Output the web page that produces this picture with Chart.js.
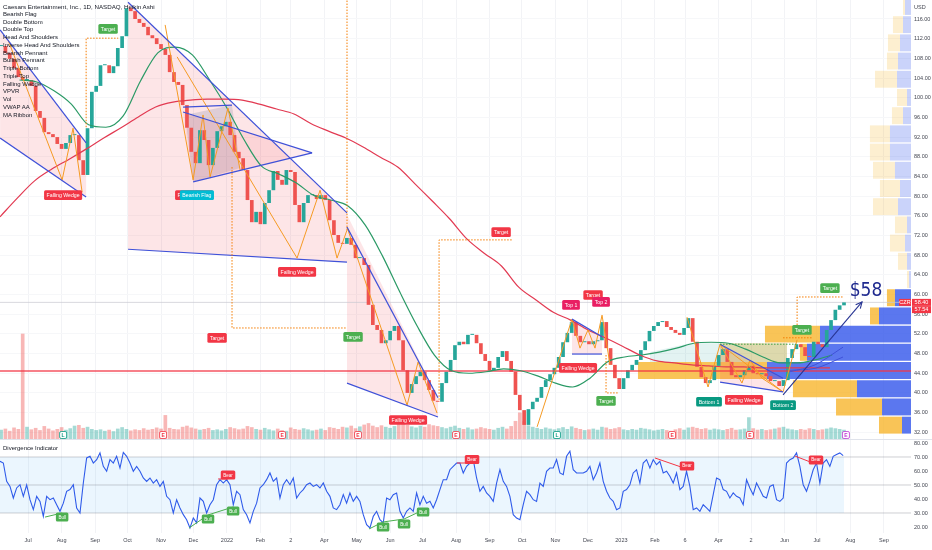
<!DOCTYPE html>
<html><head><meta charset="utf-8">
<script src="https://cdn.jsdelivr.net/npm/chart.js@4.4.1/dist/chart.umd.min.js"></script>
<style>
html,body{margin:0;padding:0;background:#fff;}
#wrap{position:relative;width:932px;height:550px;overflow:hidden;font-family:"Liberation Sans",Arial,sans-serif;}
#c1{position:absolute;left:0;top:0;}
#c2{position:absolute;left:0;top:440px;}
#sep{position:absolute;left:0;top:439px;width:932px;height:1px;background:#e0e3eb;}
.leg{position:absolute;left:3px;top:3px;font-size:6px;line-height:7.75px;color:#131722;white-space:nowrap;}
.leg .t{font-size:6.2px;}
.rsiT{position:absolute;left:3px;top:445px;font-size:6px;color:#131722;}
</style></head>
<body><div id="wrap">
<canvas id="c1" width="932" height="440"></canvas>
<canvas id="c2" width="932" height="110"></canvas>
<div id="sep"></div>
<div class="leg"><div class="t">Caesars Entertainment, Inc., 1D, NASDAQ, Heikin Ashi</div><div>Bearish Flag</div><div>Double Bottom</div><div>Double Top</div><div>Head And Shoulders</div><div>Inverse Head And Shoulders</div><div>Bearish Pennant</div><div>Bullish Pennant</div><div>Triple Bottom</div><div>Triple Top</div><div>Falling Wedge</div><div>VPVR</div><div>Vol</div><div>VWAP AA</div><div>MA Ribbon</div></div>
<div class="rsiT">Divergence Indicator</div>
</div>
<script>
// ================= DATA (x values are calendar days since 2021-07-01) =================
const monthDays = [0,31,62,92,123,153,184,215,243,274,304,335,365,396,427,457,488,518,549,580,608,639,669,700,730,761,792];
const monthLabels = ['Jul','Aug','Sep','Oct','Nov','Dec','2022','Feb','2','Apr','May','Jun','Jul','Aug','Sep','Oct','Nov','Dec','2023','Feb','6','Apr','2','Jun','Jul','Aug','Sep'];
const priceTicks = [32,36,40,44,48,52,56,60,64,68,72,76,80,84,88,92,96,100,104,108,112,116];
const rsiTicks = [20,30,40,50,60,70,80];

const candleStart = -25, candleStep = 4;
const closes = [
110.5,109.1,107.9,106.0,104.2,103.6,103.6,102.4,97.3,95.9,
93.0,92.6,92.0,90.6,89.6,90.8,92.4,92.4,87.3,84.3,
93.8,101.2,102.4,106.6,106.6,105.0,106.4,110.1,112.5,118.2,
117.6,116.0,115.2,114.4,112.7,112.1,110.9,109.9,108.7,105.2,
103.2,102.6,98.5,93.9,89.0,86.7,93.4,91.4,86.3,89.8,
93.2,94.2,95.1,92.4,89.0,87.7,85.3,79.2,74.7,76.8,
74.3,78.6,81.2,85.1,83.3,82.3,85.3,84.9,78.2,74.7,
78.6,80.2,80.2,79.4,80.2,79.2,75.1,72.1,70.5,70.3,
71.5,70.1,67.4,67.4,66.0,57.9,53.8,52.8,50.1,50.7,
52.6,53.6,50.7,44.6,40.0,41.8,43.4,44.3,42.6,40.6,
38.4,38.2,42.0,44.3,46.7,49.7,50.4,49.9,51.8,51.8,
50.1,47.9,46.5,44.6,45.1,47.3,48.5,46.5,44.3,39.6,
36.5,33.5,36.7,38.2,39.0,41.2,42.6,43.8,45.1,47.3,
50.3,52.2,54.4,51.6,50.3,50.5,49.9,50.5,50.7,54.4,
49.1,45.7,43.0,40.8,43.0,44.6,45.7,46.7,48.7,50.5,
52.6,53.6,54.4,54.6,53.4,52.8,52.2,51.8,53.2,55.2,
50.4,45.3,43.2,42.0,42.6,45.5,47.7,48.9,46.3,43.6,
43.2,43.6,44.6,45.5,44.0,43.8,44.0,43.4,42.4,42.4,
41.4,42.6,47.1,48.9,49.9,49.3,47.5,47.3,50.4,49.9,
49.3,52.8,54.8,56.9,57.8,58.4];
const volumes = [
2.8,3.1,2.5,3.4,3.0,29.0,3.6,2.9,3.3,2.7,3.8,3.1,2.6,3.0,3.5,2.8,3.2,3.9,4.1,3.3,
3.6,3.0,2.7,2.9,2.5,2.8,2.4,3.1,3.5,3.0,2.6,2.9,2.7,3.2,2.8,3.0,3.4,3.1,6.8,3.3,
3.0,2.9,3.6,3.9,3.4,3.1,2.8,3.0,3.3,2.7,2.9,2.6,3.0,3.5,3.2,2.9,3.1,3.8,3.5,3.0,
2.8,3.3,2.9,2.6,3.1,2.7,2.5,3.4,3.0,2.8,3.2,2.9,2.6,2.8,3.1,2.7,3.5,3.3,3.0,3.6,
3.4,3.9,3.2,3.7,4.2,4.6,3.9,3.5,4.0,3.6,3.3,3.8,4.4,5.0,4.1,3.7,3.4,3.9,3.6,4.3,
4.0,3.8,3.5,3.2,3.6,3.9,3.3,3.0,3.4,2.9,3.1,3.5,3.2,3.0,2.8,3.3,3.6,3.1,3.8,5.2,
7.5,5.1,4.0,3.6,3.3,3.0,3.4,3.1,2.9,3.2,3.5,3.0,3.7,3.3,3.0,2.7,2.9,3.1,2.8,3.6,
3.4,3.0,3.2,3.5,2.9,2.7,3.0,2.8,3.3,3.1,2.9,2.6,2.8,3.0,2.7,2.5,2.9,3.2,2.8,3.4,
3.6,3.3,3.0,3.2,2.8,3.1,2.9,2.7,3.0,3.3,2.8,2.9,3.1,6.2,3.2,2.8,3.0,2.7,2.9,3.1,
3.4,3.6,3.1,2.9,2.7,3.0,2.8,3.2,3.0,2.7,2.9,3.1,3.4,3.2,3.0,2.8];
const volMAStart = -26, volMAStep = 32;
const volMA = [3.1,3.5,3.2,2.9,2.7,2.8,3.0,2.9,2.7,2.6,2.8,2.9,3.3,3.6,3.3,3.0,2.9,3.1,3.3,2.9,2.7,2.8,2.6,2.7,2.8];

const fastStart = -8, fastStep = 16;
const maFast = [103.6,103.2,101.4,98.7,94.5,94.0,96.3,103.4,109.1,110.3,108.7,103.6,97.9,91.4,86.1,84.5,82.7,80.2,79.2,78.0,74.1,67.8,60.5,53.6,47.7,44.5,44.0,44.3,44.9,44.5,43.4,42.0,41.2,43.0,46.3,47.3,47.7,48.3,49.1,50.1,50.3,50.1,48.9,47.3,46.1,46.1,46.7,47.7];
const slowStart = -26, slowStep = 16;
const maSlow = [75.8,79.6,83.1,85.5,87.5,89.6,91.8,93.9,96.1,98.1,99.1,99.5,99.7,99.7,99.5,98.7,97.7,96.7,94.7,93.2,91.8,90.0,87.9,85.9,82.5,79.0,75.4,71.3,68.4,65.8,61.5,58.9,56.4,54.8,52.8,51.2,49.5,47.7,46.5,46.1,45.7,45.5,45.3,45.3,45.1,45.1,45.1,45.1,45.1];

// Volume profile (bins of price, from the lowest)
const vpLow = 31.6, vpStep = 3.7, vpValueArea = 8;
const vpUp   = [0.99,3.18,5.93,15.81,11.42,9.99,3.51,1.76,0.22,0.44,0.66,0.44,1.43,1.21,1.76,2.31,2.31,0.88,0.44,1.54,1.43,1.21,0.88,0.66];
const vpDown = [2.52,5.05,7.03,14.16,0.77,6.04,0.99,0.88,0.22,0.99,1.65,1.32,2.74,2.20,2.41,2.20,2.20,1.21,1.10,2.41,1.21,1.32,1.10,0.22];

const rsiStart = -26, rsiStep = 3.084;
const rsi = [
66.9,65.7,52.6,49.0,40.7,47.9,50.2,41.9,50.0,39.5,32.4,41.9,38.3,
27.6,41.9,39.5,40.7,35.9,31.2,37.0,45.5,46.7,50.2,33.6,30.0,51.4,69.3,70.5,65.7,68.1,72.9,63.3,59.8,68.1,65.7,70.5,62.1,
73.3,70.5,65.7,59.8,63.3,59.8,55.0,52.6,55.0,51.4,
53.8,49.0,52.6,41.9,39.5,30.0,39.5,33.6,28.8,25.2,
19.3,26.4,22.9,40.7,38.3,30.0,35.9,39.5,50.2,53.8,
51.4,53.8,50.2,35.9,45.5,43.1,32.4,28.8,22.9,31.2,
37.0,47.9,50.2,53.8,58.6,52.6,55.0,40.7,50.2,53.8,
50.2,55.0,40.7,44.3,46.7,50.2,51.4,49.0,50.2,47.9,
51.4,45.5,41.9,33.6,32.4,35.9,43.1,37.0,44.3,38.3,
41.9,38.3,28.8,21.7,19.3,27.6,31.2,25.2,22.9,40.7,
39.5,43.1,44.3,31.2,26.4,31.2,33.6,31.2,44.3,35.9,
41.9,37.0,38.3,33.6,39.5,46.7,53.8,53.8,60.9,63.3,
65.7,65.7,58.6,63.3,65.7,
68.1,55.0,45.5,49.0,44.3,41.9,38.3,51.4,60.9,52.6,49.0,41.9,
28.8,26.4,25.2,
35.9,45.5,43.1,39.5,38.3,51.4,49.0,59.8,62.1,62.1,
68.1,58.6,57.4,70.5,74.1,60.9,58.6,58.6,58.6,59.8,
63.3,53.8,58.6,65.7,52.6,45.5,40.7,38.3,32.4,33.6,
45.5,46.7,50.2,58.6,60.9,51.4,65.7,68.1,62.1,68.1,
64.5,66.9,58.6,59.8,56.2,51.4,58.6,46.7,49.0,59.8,
49.0,32.4,33.6,31.2,35.9,33.6,31.2,43.1,55.0,53.8,
46.7,45.5,40.7,44.3,41.9,40.7,35.9,53.8,47.9,43.1,
51.4,46.7,41.9,40.7,49.0,50.2,39.5,38.3,40.7,65.7,
68.1,69.3,72.9,63.3,50.2,45.5,52.6,60.9,65.7,51.4,
65.7,68.1,63.3,70.5,71.7,72.9,71.0];

const lastPrice = 58.40, prevClose = 57.54, supportLevel = 44.45;

// ---- pattern drawings: [day, price] vertices ----
const wedgeFills = [
  [[-25.9,113.8],[53.7,90.8],[53.7,79.8],[-25.9,91.8]],
  [[92.5,119.4],[295.1,76.6],[295.1,66.6],[92.5,69.2]],
  [[295.1,76.2],[379.3,39.0],[379.3,35.1],[295.1,42.0]],
  [[503.3,55.0],[531.1,51.4],[531.1,47.9],[503.3,47.9]],
  [[640.3,49.9],[698.6,43.0],[698.6,40.2],[640.3,42.2]]
];
const pennantFill = [[143.4,97.1],[262.8,88.8],[152.7,82.9]];
const flagFill = [[145.3,96.5],[188.7,98.5],[196.2,85.7],[152.7,82.9]];
const neckFill = [[575.5,48.3],[612.5,50.1],[640.3,50.1],[640.3,46.3],[575.5,46.3]];
const oliveBox = [[640.3,50.1],[702.2,50.1],[702.2,46.3],[640.3,46.3]];
const blueLines = [
  [[-25.9,113.8],[53.7,90.8]], [[-25.9,91.8],[53.7,79.8]],
  [[92.5,119.4],[295.1,76.6]], [[92.5,69.2],[295.1,66.6]],
  [[143.4,98.1],[188.7,98.5]], [[143.4,97.1],[262.8,88.8]], [[152.7,82.9],[262.8,88.8]],
  [[295.1,73.7],[379.3,39.0]], [[295.1,42.0],[379.3,35.1]],
  [[503.3,55.0],[531.1,51.4]], [[503.3,47.9],[531.1,47.9]],
  [[640.3,49.9],[698.6,43.0]], [[640.3,42.2],[698.6,40.2]]
];
const zigzags = [
  [[-18.5,111.7],[31.5,83.3],[41.6,93.8],[50.0,80.8]],
  [[126.8,114.8],[152.7,83.3],[161.9,96.5],[168.4,83.9],[185.0,97.9],[196.2,85.3]],
  [[137.9,108.3],[248.9,67.4],[270.2,81.2],[285.9,67.4],[295.1,73.1]],
  [[295.1,73.7],[350.7,37.5],[360.9,46.3],[378.4,35.9]],
  [[471.0,33.1],[503.3,55.0],[510.7,49.1],[518.1,52.8],[524.6,49.1],[531.1,55.8],[538.5,45.7]],
  [[609.7,55.4],[629.2,41.2],[640.3,49.9],[660.6,42.0],[668.0,46.7],[679.1,43.0],[698.6,40.2],[711.6,50.8]],
  [[640.3,49.9],[698.6,40.2]]
];
const targetLines = [
  [[53.7,94.0],[53.7,112.1],[83.4,112.1]],
  [[188.7,85.9],[188.7,53.2],[295.1,53.2]],
  [[295.1,73.1],[295.1,119.8]],
  [[380.3,38.6],[380.3,71.1],[447.8,71.1]],
  [[534.8,47.7],[534.8,40.0],[545.9,40.0]],
  [[711.6,53.8],[711.6,59.5],[754.1,59.5]],
  [[698.6,51.2],[726.3,51.2]]
];
const neckLine = [[640.3,49.9],[711.6,49.9]];
const ribbonLines = [[[705.0,44.3],[728.2,45.7],[754.1,49.3]], [[705.0,44.6],[728.2,45.0],[754.1,47.3]]];
const projection = [[698.6,39.6],[771.7,58.5]];
const tags = [
  [32.4,80.2,'Falling Wedge','#f23645'],
  [74.0,114.0,'Target','#4caf50'],
  [153.6,80.2,'Falling Wedge','#f23645'],
  [156.2,80.2,'Bearish Flag','#00bcd4'],
  [248.9,64.6,'Falling Wedge','#f23645'],
  [174.9,51.2,'Target','#f23645'],
  [300.7,51.4,'Target','#4caf50'],
  [351.6,34.5,'Falling Wedge','#f23645'],
  [437.7,72.7,'Target','#f23645'],
  [502.4,57.9,'Top 1','#e91e63'],
  [522.8,59.9,'Target','#f23645'],
  [530.2,58.5,'Top 2','#e91e63'],
  [508.9,45.1,'Falling Wedge','#f23645'],
  [534.8,38.4,'Target','#4caf50'],
  [630.1,38.2,'Bottom 1','#089981'],
  [662.5,38.6,'Falling Wedge','#f23645'],
  [698.6,37.5,'Bottom 2','#089981'],
  [716.1,52.8,'Target','#4caf50'],
  [742.0,61.3,'Target','#4caf50']
];
const eventMarks = [[32.4,'L','#089981'],[124.9,'E','#f23645'],[235.0,'E','#f23645'],[305.3,'E','#f23645'],[396.0,'E','#f23645'],[489.4,'L','#089981'],[595.9,'E','#f23645'],[668.0,'E','#f23645'],[756.8,'E','#c23ad6']];
const callout = {day:775.4, price:60.7, text:'$58'};

const bullTags = [[31.5,27.1],[166.5,25.7],[189.7,31.4],[328.5,20.0],[347.9,22.1],[365.5,30.7]];
const bearTags = [[185.0,57.1],[410.8,68.2],[609.7,63.6],[729.1,67.9]];
const bullLines = [[[15.7,27.1],[31.5,30.0]], [[149,19.3],[166.5,28.6],[189.7,34.3]], [[315.5,18.6],[328.5,23.6],[347.9,25.7],[365.5,32.1]]];
const bearLines = [[[175.8,54.3],[185,54.3]], [[396.9,65.7],[410.8,65.7]], [[580.1,69.3],[609.7,61.4]], [[709.6,70.7],[726.3,65.7]]];

// ================= BUILD =================
const X_MIN = -26, X_MAX = 817, P_MIN = 30.43, P_MAX = 119.86;
const FONT = '"Liberation Sans", Arial, sans-serif';
const pts = a => a.map(p => ({x:p[0], y:p[1]}));
const series = (start, step, arr) => arr.map((v,i) => ({x:start + step*i, y:v}));
const line = (data, color, width, order, extra) => Object.assign({type:'line', data, borderColor:color, borderWidth:width, pointRadius:0, tension:0, fill:false, order, xAxisID:'x', yAxisID:'y'}, extra||{});
const poly = (a, color, order) => ({type:'line', data:pts(a), borderWidth:0, borderColor:'rgba(0,0,0,0)', backgroundColor:color, pointRadius:0, tension:0, fill:'shape', order, xAxisID:'x', yAxisID:'y'});
const smooth = {cubicInterpolationMode:'monotone'};

const candleDays = closes.map((_,i) => candleStart + candleStep*i);
const isDown = closes.map((c,i) => i > 0 && c < closes[i-1]);
const datasets = [];

// volume profile
const vpCenters = vpUp.map((_,i) => vpLow + vpStep*(i+0.5));
datasets.push({type:'bar', indexAxis:'y', xAxisID:'xvp', yAxisID:'yvp', grouped:false, categoryPercentage:1, barPercentage:0.93, order:100,
  data: vpUp.map((u,i) => ({y:vpCenters[i], x:[0,u]})),
  backgroundColor: vpUp.map((_,i) => i < vpValueArea ? 'rgba(50,85,235,0.8)' : 'rgba(50,85,235,0.26)')});
datasets.push({type:'bar', indexAxis:'y', xAxisID:'xvp', yAxisID:'yvp', grouped:false, categoryPercentage:1, barPercentage:0.93, order:100,
  data: vpUp.map((u,i) => ({y:vpCenters[i], x:[u, u + vpDown[i]]})),
  backgroundColor: vpUp.map((_,i) => i < vpValueArea ? 'rgba(247,180,40,0.78)' : 'rgba(247,180,40,0.22)')});

wedgeFills.forEach(w => datasets.push(poly(w, 'rgba(242,54,69,0.13)', 90)));
datasets.push(poly(pennantFill, 'rgba(242,54,69,0.10)', 89));
datasets.push(poly(flagFill, 'rgba(110,120,150,0.22)', 89));
datasets.push(poly(neckFill, 'rgba(38,166,154,0.13)', 88));
datasets.push(poly(oliveBox, 'rgba(165,155,40,0.38)', 88));

// volume
datasets.push({type:'bar', xAxisID:'x', yAxisID:'yv', grouped:false, categoryPercentage:1, barPercentage:0.85, order:80,
  data: volumes.map((v,i) => ({x:candleDays[i], y:v})),
  backgroundColor: isDown.map(d => d ? 'rgba(239,83,80,0.42)' : 'rgba(38,166,154,0.42)')});
datasets.push(line(series(volMAStart, volMAStep, volMA), 'rgba(41,98,255,0.7)', 0.8, 79, smooth));

// price line
datasets.push(line(pts([[X_MIN,lastPrice],[X_MAX,lastPrice]]), 'rgba(200,200,208,0.7)', 1, 78));

// candles
datasets.push({type:'bar', xAxisID:'x', yAxisID:'y', grouped:false, categoryPercentage:1, barPercentage:0.85, minBarLength:1, order:50,
  data: closes.map((c,i) => ({x:candleDays[i], y:[i ? closes[i-1] : c, c]})),
  backgroundColor: isDown.map(d => d ? '#ef5350' : '#26a69a')});

datasets.push(line(pts([[X_MIN,supportLevel],[X_MAX,supportLevel]]), 'rgba(242,54,69,0.85)', 1.3, 45));
datasets.push(line(series(slowStart, slowStep, maSlow), '#e23a52', 1.2, 40, smooth));
datasets.push(line(series(fastStart, fastStep, maFast), '#2b9a66', 1.2, 40, smooth));
zigzags.forEach(z => datasets.push(line(pts(z), '#f59a23', 1, 31)));
blueLines.forEach(b => datasets.push(line(pts(b), '#3f51d8', 1.2, 30)));
targetLines.forEach(t => datasets.push(line(pts(t), '#f57c00', 1, 25, {borderDash:[1.5,1.5]})));
datasets.push(line(pts(neckLine), '#43a047', 1, 25, {borderDash:[1.5,1.5]}));
ribbonLines.forEach(r => datasets.push(line(pts(r), '#3f51d8', 1, 21, smooth)));
datasets.push(line(pts(projection), '#283593', 1.1, 20));

function rr(ctx, x, y, w, h, r){ ctx.beginPath(); ctx.roundRect(x, y, w, h, r); }
function drawTag(ctx, px, py, text, bg, fs){
  ctx.font = fs + 'px ' + FONT;
  const w = ctx.measureText(text).width + 5, h = fs + 4.5;
  ctx.fillStyle = bg; rr(ctx, px - w/2, py - h/2, w, h, 1.5); ctx.fill();
  ctx.fillStyle = '#fff'; ctx.textAlign = 'center'; ctx.textBaseline = 'middle';
  ctx.fillText(text, px, py + 0.3);
}

const mainOverlay = {
  id:'mainOverlay',
  afterDatasetsDraw(chart){
    const {ctx, scales:{x, y}} = chart;
    ctx.save();
    tags.forEach(t => drawTag(ctx, x.getPixelForValue(t[0]), y.getPixelForValue(t[1]), t[2], t[3], 5.2));
    eventMarks.forEach(m => {
      const px = x.getPixelForValue(m[0]), py = y.bottom - 5;
      ctx.fillStyle = '#fff'; ctx.strokeStyle = m[2]; ctx.lineWidth = 0.8;
      rr(ctx, px - 3.5, py - 3.5, 7, 7, 1.5); ctx.fill(); ctx.stroke();
      ctx.fillStyle = m[2]; ctx.font = 'bold 5px ' + FONT; ctx.textAlign='center'; ctx.textBaseline='middle';
      ctx.fillText(m[1], px, py + 0.3);
    });
    const ax = x.getPixelForValue(projection[1][0]), ay = y.getPixelForValue(projection[1][1]);
    const bx = x.getPixelForValue(projection[0][0]), by = y.getPixelForValue(projection[0][1]);
    const ang = Math.atan2(ay - by, ax - bx);
    ctx.strokeStyle = '#283593'; ctx.lineWidth = 1.1; ctx.beginPath();
    ctx.moveTo(ax - 7*Math.cos(ang - 0.45), ay - 7*Math.sin(ang - 0.45)); ctx.lineTo(ax, ay);
    ctx.lineTo(ax - 7*Math.cos(ang + 0.45), ay - 7*Math.sin(ang + 0.45)); ctx.stroke();
    ctx.fillStyle = '#1f2a8f'; ctx.font = '19px "Liberation Sans Narrow","DejaVu Sans Condensed",' + FONT;
    ctx.textAlign = 'center'; ctx.textBaseline = 'middle';
    ctx.fillText(callout.text, x.getPixelForValue(callout.day), y.getPixelForValue(callout.price));
    ctx.restore();
  },
  afterDraw(chart){
    const {ctx, scales:{y}} = chart;
    ctx.save();
    ctx.font = '5.5px ' + FONT; ctx.textBaseline = 'middle';
    ctx.fillStyle = '#434651'; ctx.textAlign = 'left';
    ctx.fillText('USD', y.left + 3, 7);
    const py1 = y.getPixelForValue(lastPrice), py2 = y.getPixelForValue(prevClose) + 2.5;
    ctx.fillStyle = '#f23645';
    ctx.fillRect(y.left + 1, py1 - 3.5, 19, 7);
    ctx.fillRect(y.left + 1, py2 - 3, 19, 7);
    ctx.fillRect(y.left - 12, py1 - 3.5, 12, 7);
    ctx.fillStyle = '#fff'; ctx.textAlign = 'center';
    ctx.fillText(lastPrice.toFixed(2), y.left + 10.5, py1);
    ctx.fillText(prevClose.toFixed(2), y.left + 10.5, py2 + 0.5);
    ctx.fillText('CZR', y.left - 6, py1);
    ctx.restore();
  }
};

const gridCol = '#f2f3f6';
new Chart(document.getElementById('c1'), {
  type:'bar',
  data:{datasets},
  options:{
    responsive:false, animation:false, events:[],
    layout:{padding:0},
    plugins:{legend:{display:false}, tooltip:{enabled:false}},
    scales:{
      x:{type:'linear', axis:'x', min:X_MIN, max:X_MAX, offset:false, bounds:'data',
        grid:{color:gridCol, drawTicks:false, offset:false}, border:{display:false}, ticks:{display:false},
        afterBuildTicks:s => { s.ticks = monthDays.map(v => ({value:v})); },
        afterFit:s => { s.height = 0; s.paddingLeft = 0; s.paddingRight = 0; }},
      y:{type:'linear', axis:'y', position:'right', min:P_MIN, max:P_MAX, offset:false, bounds:'data', beginAtZero:false,
        grid:{color:'#f6f7f9', drawTicks:false}, border:{display:false},
        ticks:{font:{size:5.5, family:FONT}, color:'#434651', padding:3, autoSkip:false, callback:v => v.toFixed(2)},
        afterBuildTicks:s => { s.ticks = priceTicks.map(v => ({value:v})); },
        afterFit:s => { s.width = 21; s.paddingTop = 0; s.paddingBottom = 0; }},
      yv:{type:'linear', axis:'y', display:false, min:0, max:120, offset:false},
      yvp:{type:'linear', axis:'y', display:false, min:P_MIN, max:P_MAX, offset:false, beginAtZero:false, grid:{offset:false}},
      xvp:{type:'linear', axis:'x', display:false, min:0, max:100, reverse:true, offset:false}
    }
  },
  plugins:[mainOverlay]
});

// ================= RSI PANE =================
const lastDay = candleDays[candleDays.length-1];
const rsiSets = [];
rsiSets.push(poly([[X_MIN,70],[lastDay,70],[lastDay,30],[X_MIN,30]], 'rgba(33,150,243,0.09)', 10));
[70,50,30].forEach(l => rsiSets.push(line(pts([[X_MIN,l],[X_MAX,l]]), 'rgba(120,123,134,0.45)', 0.8, 9)));
rsiSets.push(line(series(rsiStart, rsiStep, rsi), '#2f5bea', 1.1, 2));
bullLines.forEach(b => rsiSets.push(line(pts(b), '#4caf50', 1, 1)));
bearLines.forEach(b => rsiSets.push(line(pts(b), '#f23645', 1, 1)));

const rsiOverlay = {
  id:'rsiOverlay',
  afterDatasetsDraw(chart){
    const {ctx, scales:{x, y}} = chart;
    ctx.save();
    bullTags.forEach(t => drawTag(ctx, x.getPixelForValue(t[0]), y.getPixelForValue(t[1]), 'Bull', '#4caf50', 4.5));
    bearTags.forEach(t => drawTag(ctx, x.getPixelForValue(t[0]), y.getPixelForValue(t[1]), 'Bear', '#f23645', 4.5));
    ctx.restore();
  }
};

new Chart(document.getElementById('c2'), {
  type:'line',
  data:{datasets:rsiSets},
  options:{
    responsive:false, animation:false, events:[],
    layout:{padding:0},
    plugins:{legend:{display:false}, tooltip:{enabled:false}},
    scales:{
      x:{type:'linear', min:X_MIN, max:X_MAX, offset:false, bounds:'data',
        grid:{color:gridCol, drawTicks:false}, border:{display:false},
        ticks:{font:{size:5.5, family:FONT}, color:'#434651', padding:4, maxRotation:0, autoSkip:false,
          callback:v => { const k = monthDays.indexOf(v); return k >= 0 ? monthLabels[k] : ''; }},
        afterBuildTicks:s => { s.ticks = monthDays.map(v => ({value:v})); },
        afterFit:s => { s.height = 17; s.paddingLeft = 0; s.paddingRight = 0; }},
      y:{type:'linear', position:'right', min:15.71, max:82.14, offset:false, bounds:'data',
        grid:{display:false, drawTicks:false}, border:{display:false},
        ticks:{font:{size:5.5, family:FONT}, color:'#434651', padding:3, autoSkip:false, callback:v => v.toFixed(2)},
        afterBuildTicks:s => { s.ticks = rsiTicks.map(v => ({value:v})); },
        afterFit:s => { s.width = 21; s.paddingTop = 0; s.paddingBottom = 0; }}
    }
  },
  plugins:[rsiOverlay]
});
</script>
</body></html>
